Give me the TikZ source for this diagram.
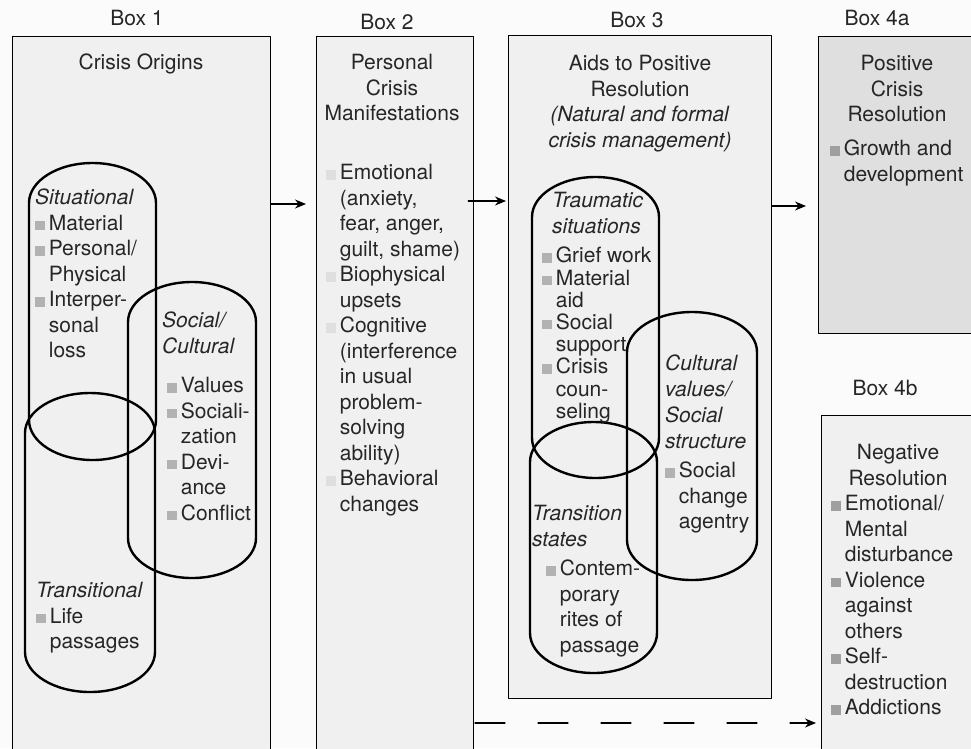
\documentclass[tikz,border=0pt]{standalone}
\usepackage{fontspec}
\setmainfont{TeX Gyre Heros}
\usetikzlibrary{arrows.meta}
% small square bullet, text and indent of the lists
\newcommand{\sq}[1][gray!60]{{\color{#1}\rule{0.45em}{0.45em}}\hspace{0.2em}}
\newcommand{\ind}{\hspace*{0.65em}}
\begin{document}
\begin{tikzpicture}[x=1pt,y=-1pt,>={Stealth[length=11pt,width=9pt]},line join=round,line cap=round,
    every node/.style={font=\fontsize{21}{25.5}\selectfont,inner sep=0pt,text=black!85},
    box/.style={draw,line width=1.2pt,fill=gray!12,anchor=north west},
    loopline/.style={line width=2.4pt},
    txt/.style={anchor=north west,align=left},
    head/.style={anchor=north,align=center}]
  \useasboundingbox[fill=gray!3] (0,0) rectangle (971,748);
  % the five boxes
  \node[box,minimum width=258,minimum height=724] (b1) at (12,36) {};
  \node[box,minimum width=157,minimum height=724] (b2) at (316,36) {};
  \node[box,minimum width=263,minimum height=663] (b3) at (508,35) {};
  \node[box,minimum width=180,minimum height=297,fill=gray!25] (b4a) at (818,36) {};
  \node[box,minimum width=180,minimum height=345] (b4b) at (821,415) {};
  \node (lb1) at (137,18) {Box 1};
  \node (lb2) at (387,22) {Box 2};
  \node (lb3) at (637,20) {Box 3};
  \node (lb4a) at (877,18) {Box 4a};
  \node (lb4b) at (885,388) {Box 4b};
  % headings
  \node[head] (h1) at (141,54) {Crisis Origins};
  \node[head] (h2) at (392,54) {Personal\\Crisis\\Manifestations};
  \node[head] (h3) at (640,55) {Aids to Positive\\Resolution\\\textit{(Natural and formal}\\\textit{crisis management)}};
  \node[head] (h4a) at (897,55) {Positive\\Crisis\\Resolution};
  \node[head] (h4b) at (898,444) {Negative\\Resolution};
  % the overlapping loops
  \foreach \l/\r/\t/\b in {29/156/163/460,128/256/282/578,25/155/393/692,532/659/177/478,627/757/312/580,530/657/422/673}
    \draw[loopline] (\l,\t+40) arc[start angle=180,end angle=360,x radius={(\r-\l)/2},y radius=40]
      -- (\r,\b-40) arc[start angle=0,end angle=180,x radius={(\r-\l)/2},y radius=40] -- cycle;
  % box 1
  \node[txt] (sit) at (35,189) {\textit{Situational}\\\sq Material\\\sq Personal/\\\ind Physical\\\sq Interper-\\\ind sonal\\\ind loss};
  \node[txt] (soc) at (162,312) {\textit{Social/}\\\textit{Cultural}};
  \node[txt] (socl) at (167,377) {\sq Values\\\sq Sociali-\\\ind zation\\\sq Devi-\\\ind ance\\\sq Conflict};
  \node[txt] (trn) at (36,582) {\textit{Transitional}\\\sq Life\\\ind passages};
  % box 2
  \node[txt] (man) at (326,164) {\sq[gray!25]Emotional\\\ind (anxiety,\\\ind fear, anger,\\\ind guilt, shame)\\
    \sq[gray!25]Biophysical\\\ind upsets\\\sq[gray!25]Cognitive\\\ind (interference\\\ind in usual\\\ind problem-\\\ind solving\\\ind ability)\\
    \sq[gray!25]Behavioral\\\ind changes};
  % box 3
  \node[txt] (trm) at (552,192) {\textit{Traumatic}\\\textit{situations}};
  \node[txt,font=\fontsize{21}{22.2}\selectfont] (trml) at (542,247) {\sq Grief work\\\sq Material\\\ind aid\\\sq Social\\\ind support\\\sq Crisis\\\ind coun-\\\ind seling};
  \node[txt,font=\fontsize{21}{26}\selectfont] (cul) at (665,355) {\textit{Cultural}\\\textit{values/}\\\textit{Social}\\\textit{structure}};
  \node[txt] (culi) at (665,462) {\sq Social\\\ind change\\\ind agentry};
  \node[txt] (tst) at (532,505) {\textit{Transition}\\\textit{states}};
  \node[txt] (tsti) at (546,560) {\sq Contem-\\\ind porary\\\ind rites of\\\ind passage};
  % boxes 4a and 4b
  \node[txt] (grw) at (830,140) {\sq[gray!75]Growth and\\\ind development};
  \node[txt] (neg) at (831,495) {\sq[gray!75]Emotional/\\\ind Mental\\\ind disturbance\\\sq[gray!75]Violence\\\ind against\\\ind others\\
    \sq[gray!75]Self-\\\ind destruction\\\sq[gray!75]Addictions};
  % arrows
  \coordinate (r1) at (0,204);
  \coordinate (r2) at (0,201);
  \coordinate (r3) at (0,206);
  \coordinate (r4) at (475,723);
  \draw[->,line width=1.2pt] (b1.east |- r1) -- ([xshift=-10pt]b2.west |- r1);
  \draw[->,line width=1.2pt] ([xshift=-6pt]b2.east |- r2) -- ([xshift=-2pt]b3.west |- r2);
  \draw[->,line width=1.2pt] (b3.east |- r3) -- ([xshift=-12pt]b4a.west |- r3);
  \draw[->,line width=1.2pt,dash pattern=on 30pt off 33pt] (r4) -- ([xshift=-5pt]b4b.west |- r4);
\end{tikzpicture}
\end{document}
